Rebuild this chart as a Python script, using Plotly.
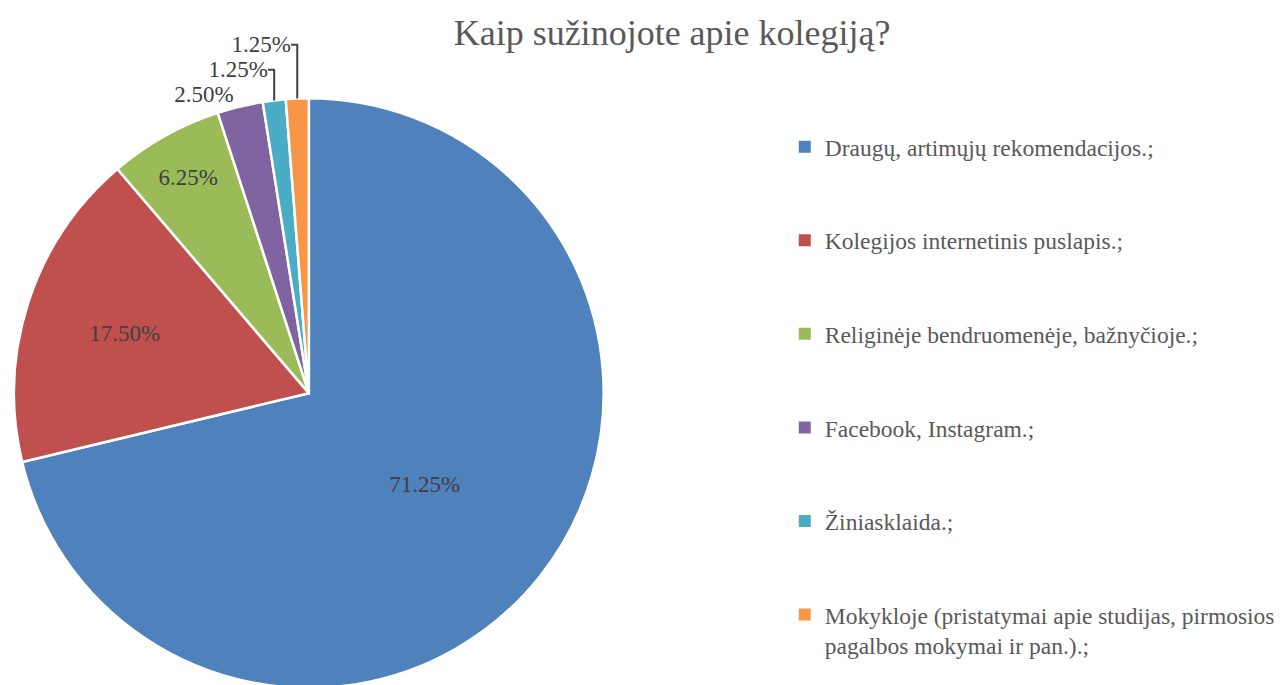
import plotly.graph_objects as go

labels = [
    "Draugų, artimųjų rekomendacijos.;",
    "Kolegijos internetinis puslapis.;",
    "Religinėje bendruomenėje, bažnyčioje.;",
    "Facebook, Instagram.;",
    "Žiniasklaida.;",
    "Mokykloje (pristatymai apie studijas, pirmosios<br>pagalbos mokymai ir pan.).;",
]
counts = [57, 14, 5, 2, 1, 1]
colors = ['#4F81BD', '#C0504D', '#9BBB59', '#8064A2', '#4BACC6', '#F79646']
text_pos = ['inside', 'inside', 'inside', 'outside', 'outside', 'outside']

FONT = "Liberation Serif"

fig = go.Figure()
fig.add_trace(go.Pie(
    labels=labels, values=counts, sort=False, direction='clockwise', rotation=0,
    marker=dict(colors=colors, line=dict(color='white', width=2.5)),
    textposition=text_pos, texttemplate='%{percent:.2%}',
    textfont=dict(family=FONT, size=23, color='#404040'),
    insidetextorientation='horizontal',
    domain=dict(x=[0, 594 / 1287], y=[0, 594 / 685]),
    showlegend=False, hoverinfo='label+percent',
))

# legend entries, one group each so the gap between them can be set
for i, (lab, col) in enumerate(zip(labels, colors)):
    fig.add_trace(go.Scatter(
        x=[None], y=[None], mode='markers', name=lab, legendgroup=f"g{i}",
        marker=dict(symbol='square', size=8, color=col),
    ))

fig.update_layout(
    width=1287, height=685, paper_bgcolor='white', plot_bgcolor='white',
    margin=dict(l=0, r=0, t=0, b=0),
    title=dict(text="Kaip sužinojote apie kolegiją?", x=0.516, xanchor='center',
               y=0.964, yanchor='middle', font=dict(family=FONT, size=36, color='#595959')),
    xaxis=dict(visible=False), yaxis=dict(visible=False),
    legend=dict(x=0.602, y=0.828, xanchor='left', yanchor='top', valign='top',
                tracegroupgap=60, itemsizing='constant',
                font=dict(family=FONT, size=23.5, color='#595959')),
)
fig.write_html("out.html")
